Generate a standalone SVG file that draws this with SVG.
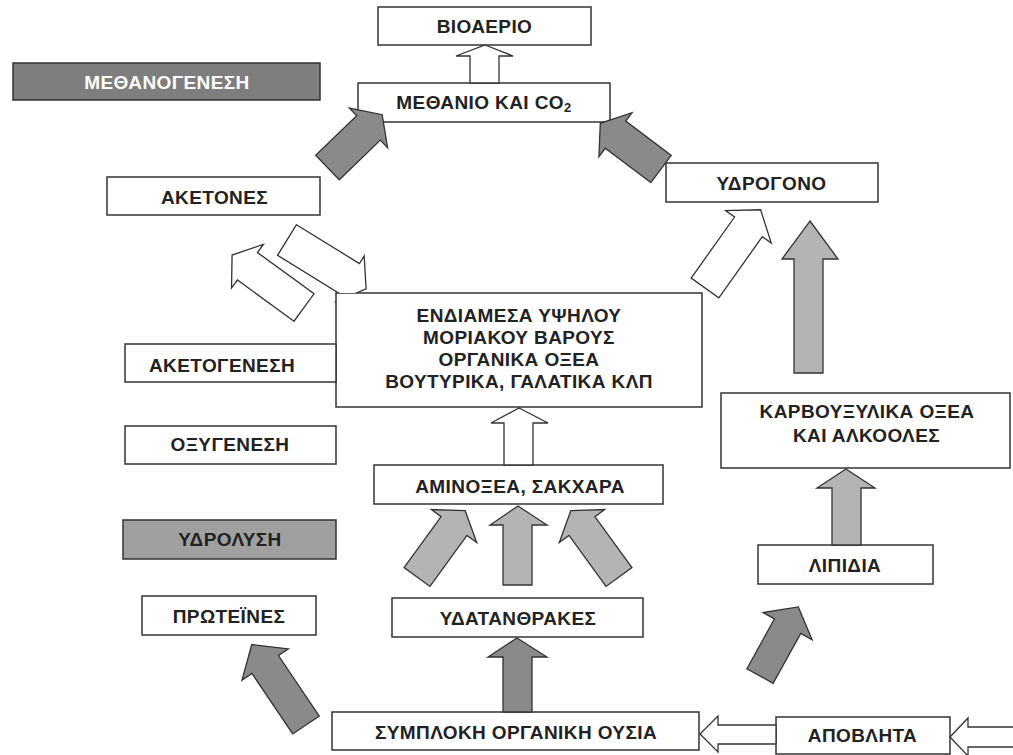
<svg xmlns="http://www.w3.org/2000/svg" width="1013" height="755" viewBox="0 0 1013 755">
<style>
.box{fill:#ffffff;stroke:#333333;stroke-width:1.5}
.gbox{fill:#7e7e7e;stroke:#333333;stroke-width:1.5}
.lbox{fill:#a0a0a0;stroke:#333333;stroke-width:1.5}
.t{font-family:"Liberation Sans",Arial,sans-serif;font-weight:bold;font-size:19px;letter-spacing:0.4px;fill:#222222;text-anchor:middle}
.tw{fill:#ffffff}
.aw{fill:#ffffff;stroke:#333333;stroke-width:1.3;stroke-linejoin:miter}
.ad{fill:#8a8a8a;stroke:#333333;stroke-width:1.3}
.al{fill:#b4b4b4;stroke:#333333;stroke-width:1.3}
</style>
<defs>
<clipPath id="outsideBig">
<path clip-rule="evenodd" d="M0,0H1013V755H0Z M336,293H702V407H336Z"/>
</clipPath>
</defs>
<rect x="0" y="0" width="1013" height="755" fill="#ffffff"/>
<g id="nodes">
<g id="bioaerio"><rect class="box" x="378" y="7" width="213" height="38"/><text class="t" x="484.5" y="33">ΒΙΟΑΕΡΙΟ</text></g>
<g id="methanio"><rect class="box" x="358" y="83" width="252" height="39"/><text class="t" x="484" y="109">ΜΕΘΑΝΙΟ ΚΑΙ CO<tspan font-size="13" dy="3">2</tspan></text></g>
<g id="methanogenesi"><rect class="gbox" x="13" y="63" width="307" height="37"/><text class="t tw" x="167" y="89">ΜΕΘΑΝΟΓΕΝΕΣΗ</text></g>
<g id="aketones"><rect class="box" x="107" y="177" width="213" height="38"/><text class="t" x="214.5" y="204">ΑΚΕΤΟΝΕΣ</text></g>
<g id="ydrogono"><rect class="box" x="666" y="163" width="212" height="39"/><text class="t" x="771.5" y="190">ΥΔΡΟΓΟΝΟ</text></g>
<g id="endiamesa"><rect class="box" x="336" y="293" width="366" height="114"/>
<text class="t" x="519" y="322">ΕΝΔΙΑΜΕΣΑ ΥΨΗΛΟΥ</text>
<text class="t" x="519" y="344">ΜΟΡΙΑΚΟΥ ΒΑΡΟΥΣ</text>
<text class="t" x="519" y="366">ΟΡΓΑΝΙΚΑ ΟΞΕΑ</text>
<text class="t" x="519" y="388">ΒΟΥΤΥΡΙΚΑ, ΓΑΛΑΤΙΚΑ ΚΛΠ</text></g>
<g id="aketogenesi"><rect class="box" x="125" y="344" width="211" height="38"/><text class="t" x="222" y="371.5">ΑΚΕΤΟΓΕΝΕΣΗ</text></g>
<g id="oxygenesi"><rect class="box" x="125" y="426" width="211" height="38"/><text class="t" x="230" y="450.5">ΟΞΥΓΕΝΕΣΗ</text></g>
<g id="aminoxea"><rect class="box" x="374" y="465" width="289" height="39"/><text class="t" x="520" y="493">ΑΜΙΝΟΞΕΑ, ΣΑΚΧΑΡΑ</text></g>
<g id="karvoxylika"><rect class="box" x="721" y="393" width="289" height="75"/>
<text class="t" x="867" y="418">ΚΑΡΒΟΥΞΥΛΙΚΑ ΟΞΕΑ</text>
<text class="t" x="866.5" y="441.5">ΚΑΙ ΑΛΚΟΟΛΕΣ</text></g>
<g id="ydrolysi"><rect class="lbox" x="123" y="520" width="213" height="39"/><text class="t" x="230" y="546">ΥΔΡΟΛΥΣΗ</text></g>
<g id="proteines"><rect class="box" x="142" y="596" width="174" height="39"/><text class="t" x="229" y="623">ΠΡΩΤΕΪΝΕΣ</text></g>
<g id="ydatanthrakes"><rect class="box" x="392" y="598" width="251" height="39"/><text class="t" x="518" y="625">ΥΔΑΤΑΝΘΡΑΚΕΣ</text></g>
<g id="lipidia"><rect class="box" x="758" y="545" width="175" height="39"/><text class="t" x="845" y="571.5">ΛΙΠΙΔΙΑ</text></g>
<g id="symploki"><rect class="box" x="332" y="712" width="367" height="38"/><text class="t" x="516" y="739">ΣΥΜΠΛΟΚΗ ΟΡΓΑΝΙΚΗ ΟΥΣΙΑ</text></g>
<g id="apovlita"><rect class="box" x="776" y="717" width="174" height="37"/><text class="t" x="862.5" y="742">ΑΠΟΒΛΗΤΑ</text></g>
</g>
<g id="connectors">
<polygon class="aw" points="485,45 513,56 499,56 499,83 470,83 470,56 456,56"/>
<polygon class="ad" transform="translate(327.5,167.5) rotate(-44)" points="0,-17 57,-17 57,-27.5 76,0 57,27.5 57,17 0,17"/>
<polygon class="ad" transform="translate(661,169) rotate(-143)" points="0,-17 57,-17 57,-27.5 76,0 57,27.5 57,17 0,17"/>
<polygon class="aw" transform="translate(304,307.5) rotate(-143.9)" points="0,-17 70,-17 70,-27 89,0 70,27 70,17 0,17"/>
<g clip-path="url(#outsideBig)"><polygon class="aw" transform="translate(287,240) rotate(31.7)" points="0,-18 74,-18 74,-27 93,0 74,27 74,18 0,18"/></g>
<polygon class="aw" transform="translate(705,288) rotate(-54.6)" points="0,-17 75,-17 75,-28 96,0 75,28 75,17 0,17"/>
<polygon class="al" points="810,221 838,259 823,259 823,373 794,373 794,259 782,259"/>
<polygon class="aw" points="519,408 548,423 533,423 533,465 504,465 504,423 491,423"/>
<polygon class="al" points="846,469 875,488 861,488 861,545 832,545 832,488 817,488"/>
<polygon class="al" transform="translate(417,577) rotate(-54)" points="0,-16 63,-16 63,-28 82,0 63,28 63,16 0,16"/>
<polygon class="al" points="518,506 547,525 532,525 532,585 503,585 503,525 490,525"/>
<polygon class="al" transform="translate(619,577) rotate(-126)" points="0,-16 63,-16 63,-28 82,0 63,28 63,16 0,16"/>
<polygon class="ad" transform="translate(306,725) rotate(-124)" points="0,-16 73,-16 73,-28 97,0 73,28 73,16 0,16"/>
<polygon class="ad" points="517,638 547,657 532,657 532,712 503,712 503,657 488,657"/>
<polygon class="ad" transform="translate(760,676) rotate(-61)" points="0,-15 57,-15 57,-28 79,0 57,28 57,15 0,15"/>
<polygon class="aw" points="700,734 718,716 718,725 776,725 776,744 718,744 718,752"/>
<polygon class="aw" points="950,737 968,718 968,727 1015,727 1015,747 968,747 968,756"/>
</g>
</svg>
